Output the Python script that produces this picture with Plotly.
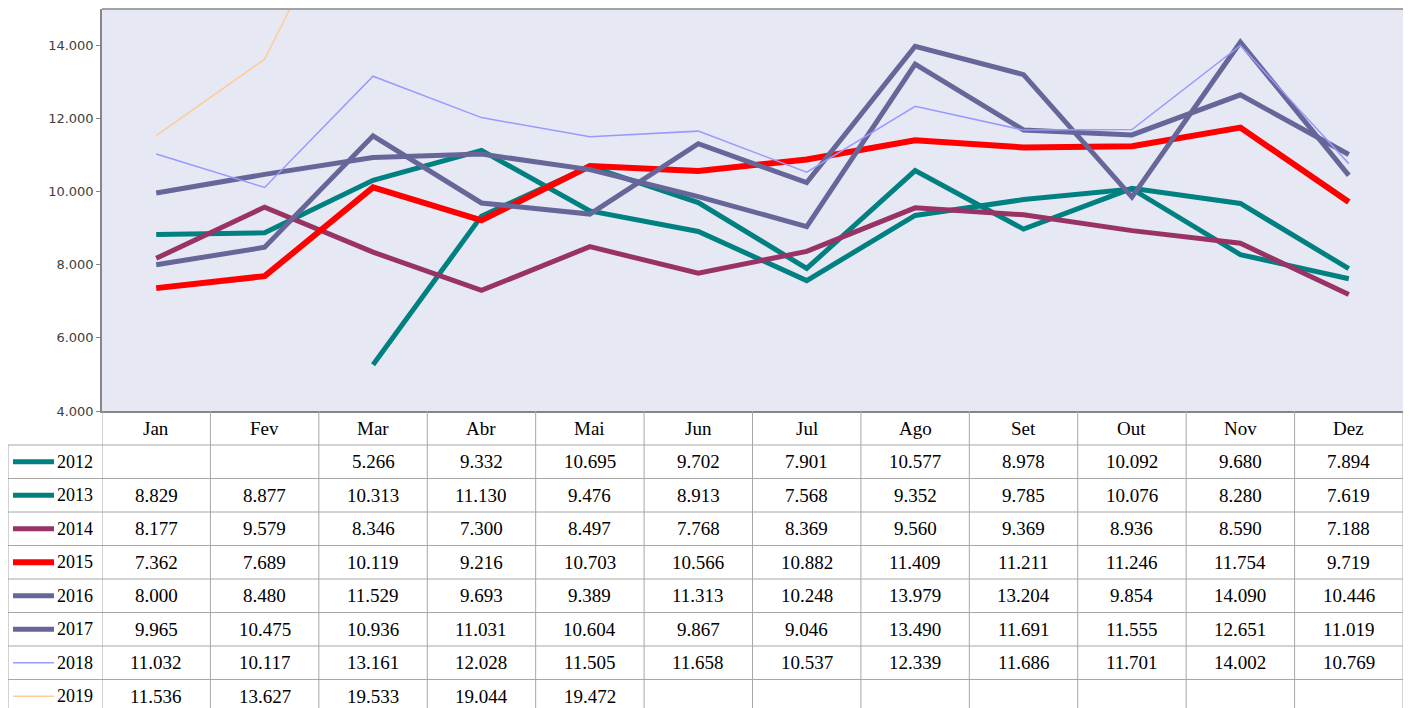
import plotly.graph_objects as go

# Monthly values per year (None = no data)
months = ["Jan", "Fev", "Mar", "Abr", "Mai", "Jun", "Jul", "Ago", "Set", "Out", "Nov", "Dez"]
years = ["2012", "2013", "2014", "2015", "2016", "2017", "2018", "2019"]

v2012 = [None, None, 5266, 9332, 10695, 9702, 7901, 10577, 8978, 10092, 9680, 7894]
v2013 = [8829, 8877, 10313, 11130, 9476, 8913, 7568, 9352, 9785, 10076, 8280, 7619]
v2014 = [8177, 9579, 8346, 7300, 8497, 7768, 8369, 9560, 9369, 8936, 8590, 7188]
v2015 = [7362, 7689, 10119, 9216, 10703, 10566, 10882, 11409, 11211, 11246, 11754, 9719]
v2016 = [8000, 8480, 11529, 9693, 9389, 11313, 10248, 13979, 13204, 9854, 14090, 10446]
v2017 = [9965, 10475, 10936, 11031, 10604, 9867, 9046, 13490, 11691, 11555, 12651, 11019]
v2018 = [11032, 10117, 13161, 12028, 11505, 11658, 10537, 12339, 11686, 11701, 14002, 10769]
v2019 = [11536, 13627, 19533, 19044, 19472, None, None, None, None, None, None, None]

series = [v2012, v2013, v2014, v2015, v2016, v2017, v2018, v2019]
colors = ["#008080", "#008080", "#993366", "#FF0000", "#666699", "#666699", "#9999FF", "#FFCC99"]
widths = [5, 5, 5, 6, 5, 5, 1.5, 1.5]

# geometry in screen pixels (page has an 8px body margin, figure is 1395 wide)
OFF = 8
FIG_W, FIG_H = 1395, 700
SCR_H = OFF + FIG_H
PL, PR, PT, PB = 102, OFF + FIG_W, 9, 411   # plot area edges (screen)
ROW0, ROWH = 445, 33.5                      # first data row top, row height
LEG_X0 = 8
FONT_TAB = "Liberation Serif"


def py(y_px):
    return (PB - y_px) / (PB - PT)


def px(x_px):
    return (x_px - PL) / (PR - PL)


def fmt(v):
    return f"{v:,}".replace(",", ".")


fig = go.Figure()

for name, vals, c, w in zip(years, series, colors, widths):
    fig.add_trace(go.Scatter(
        x=list(range(len(months))), y=vals, name=name,
        mode="lines", line=dict(color=c, width=w),
        connectgaps=False, showlegend=False,
        hovertemplate=name + " %{x}: %{y:,d}<extra></extra>",
    ))

shapes = []
annotations = []
grid = dict(color="#A6A6A6", width=1)

# plot area top border
shapes.append(dict(type="line", xref="paper", yref="paper", x0=0, x1=1, y0=1, y1=1,
                   line=dict(color="#868686", width=1.5)))

n_rows = len(years)
# vertical table lines
for k in range(len(months) + 1):
    shapes.append(dict(type="line", xref="x", yref="paper", x0=k - 0.5, x1=k - 0.5,
                       y0=py(PB), y1=py(SCR_H + 5), line=grid))
shapes.append(dict(type="line", xref="paper", yref="paper", x0=px(LEG_X0), x1=px(LEG_X0),
                   y0=py(ROW0), y1=py(SCR_H + 5), line=grid))
# horizontal table lines
for r in range(n_rows + 1):
    yy = py(ROW0 + ROWH * r)
    shapes.append(dict(type="line", xref="paper", yref="paper", x0=px(LEG_X0), x1=1,
                       y0=yy, y1=yy, line=grid))

# month headers
for i, m in enumerate(months):
    annotations.append(dict(x=i, y=py((PB + ROW0) / 2), xref="x", yref="paper", text=m,
                            xanchor="center", yanchor="middle", showarrow=False,
                            font=dict(family=FONT_TAB, size=19, color="#000")))

# rows: legend key + values
for r, (name, vals, c, w) in enumerate(zip(years, series, colors, widths)):
    yc = py(ROW0 + ROWH * r + ROWH / 2)
    shapes.append(dict(type="line", xref="paper", yref="paper", x0=px(13), x1=px(54),
                       y0=yc, y1=yc, line=dict(color=c, width=w)))
    annotations.append(dict(x=px(55), y=yc, xref="paper", yref="paper", text=name,
                            xanchor="left", yanchor="middle", showarrow=False,
                            font=dict(family=FONT_TAB, size=18, color="#000")))
    for i, v in enumerate(vals):
        if v is None:
            continue
        annotations.append(dict(x=i, y=yc, xref="x", yref="paper", text=fmt(v),
                                xanchor="center", yanchor="middle", showarrow=False,
                                font=dict(family=FONT_TAB, size=19, color="#000")))

fig.update_layout(
    width=FIG_W, height=FIG_H,
    margin=dict(l=PL - OFF, r=0, t=PT - OFF, b=SCR_H - PB, pad=0),
    plot_bgcolor="#E6E9F4", paper_bgcolor="white",
    separators=",.",
    xaxis=dict(range=[-0.5, len(months) - 0.5], showticklabels=False, showgrid=False,
               zeroline=False, showline=True, linecolor="#868686", linewidth=1.5, ticks=""),
    yaxis=dict(range=[4000, 15000], tickvals=[4000, 6000, 8000, 10000, 12000, 14000],
               tickformat=",d", showgrid=False, zeroline=False, showline=True,
               linecolor="#868686", linewidth=1.5, ticks="outside", ticklen=4,
               tickcolor="#868686",
               tickfont=dict(family="DejaVu Sans", size=13, color="#404040")),
    shapes=shapes, annotations=annotations,
    hovermode="closest",
)

fig.write_html("out.html")
